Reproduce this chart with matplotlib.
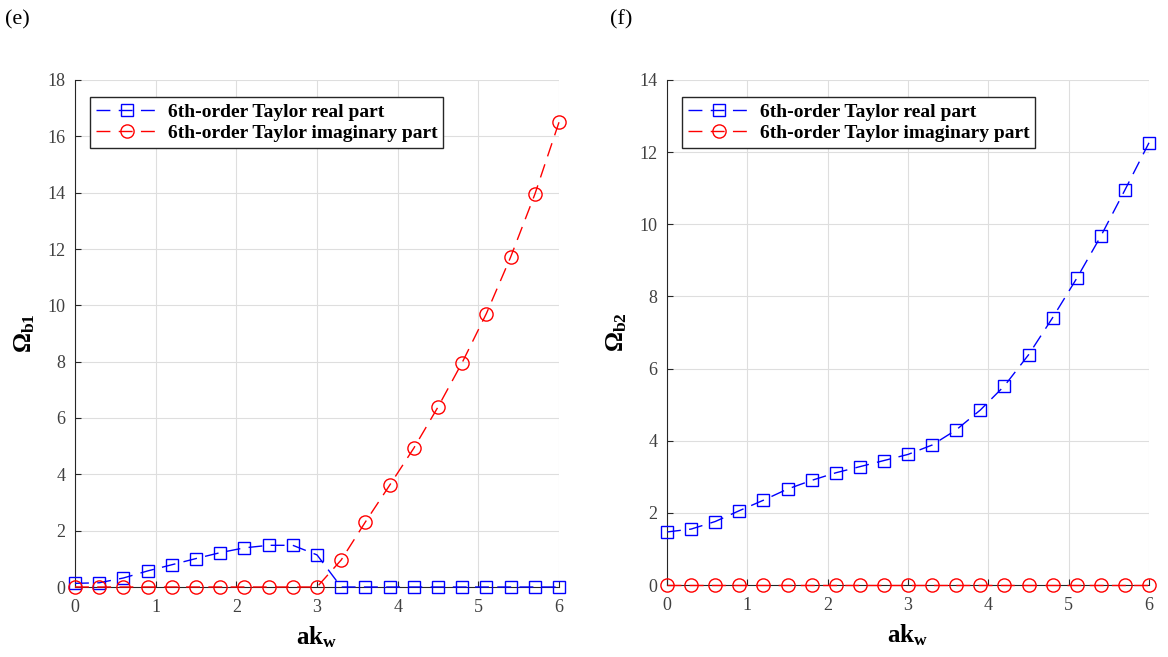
import matplotlib
matplotlib.use("Agg")
import matplotlib.pyplot as plt

plt.rcParams["font.family"] = ["Liberation Serif", "DejaVu Serif"]
plt.rcParams["mathtext.fontset"] = "custom"
plt.rcParams["mathtext.rm"] = "Liberation Serif"
plt.rcParams["mathtext.it"] = "Liberation Serif:italic"
plt.rcParams["mathtext.bf"] = "Liberation Serif:bold"

ak_w = [0.0, 0.3, 0.6, 0.9, 1.2, 1.5, 1.8, 2.1, 2.4, 2.7, 3.0,
        3.3, 3.6, 3.9, 4.2, 4.5, 4.8, 5.1, 5.4, 5.7, 6.0]

# panel (e): Omega_b1
b1_real = [0.13, 0.15, 0.32, 0.57, 0.79, 1.01, 1.22, 1.39, 1.48, 1.48, 1.14,
           0, 0, 0, 0, 0, 0, 0, 0, 0, 0]
b1_imag = [0, 0, 0, 0, 0, 0, 0, 0, 0, 0, 0,
           0.96, 2.31, 3.61, 4.93, 6.39, 7.97, 9.71, 11.71, 13.94, 16.5]

# panel (f): Omega_b2
b2_real = [1.47, 1.55, 1.76, 2.06, 2.35, 2.66, 2.90, 3.11, 3.28, 3.45, 3.62,
           3.88, 4.30, 4.85, 5.52, 6.38, 7.41, 8.50, 9.67, 10.95, 12.26]
b2_imag = [0] * 21

legend_labels = ["6th-order Taylor real part", "6th-order Taylor imaginary part"]


def draw_panel(ax, real, imag, ymax, ylabel):
    ax.plot(ak_w, real, color="#0000ff", marker="s", markersize=8,
            markerfacecolor="none", linewidth=1, dashes=(10, 6),
            label=legend_labels[0], clip_on=False, zorder=3)
    ax.plot(ak_w, imag, color="#ff0000", marker="o", markersize=9.5,
            markerfacecolor="none", linewidth=1, dashes=(10, 6),
            label=legend_labels[1], clip_on=False, zorder=3)
    ax.set_xlim(0, 6)
    ax.set_ylim(0, ymax)
    ax.set_xticks(range(0, 7))
    ax.set_yticks(range(0, ymax + 1, 2))
    ax.grid(True, color="#dedede", linewidth=0.8)
    ax.set_axisbelow(True)
    for side in ["top", "right"]:
        ax.spines[side].set_visible(False)
    for side in ["left", "bottom"]:
        ax.spines[side].set_color("#262626")
    ax.tick_params(direction="in", length=4, labelsize=13,
                   labelcolor="#404040", color="#262626")
    ax.tick_params(axis="x", pad=9)
    ax.tick_params(axis="y", pad=7)
    ax.set_xlabel(r"$\mathbf{ak_w}$", fontsize=18, labelpad=6)
    ax.set_ylabel(ylabel, fontsize=18, labelpad=7)
    leg = ax.legend(loc="upper left", bbox_to_anchor=(0.031, 0.966),
                    prop={"weight": "bold", "size": 14}, fancybox=False,
                    framealpha=1, edgecolor="#262626", borderpad=0.3,
                    labelspacing=0.2, handlelength=3.2, handletextpad=0.5,
                    borderaxespad=0)
    leg.get_frame().set_linewidth(1.0)


fig = plt.figure(figsize=(11.68, 6.57), dpi=100)
ax1 = fig.add_axes([75 / 1168, 1 - 587 / 657, 484 / 1168, 507 / 657])
ax2 = fig.add_axes([667 / 1168, 1 - 585 / 657, 482 / 1168, 505 / 657])

draw_panel(ax1, b1_real, b1_imag, 18, r"$\mathbf{\Omega_{b1}}$")
draw_panel(ax2, b2_real, b2_imag, 14, r"$\mathbf{\Omega_{b2}}$")

fig.text(5 / 1168, 1 - 20 / 657, "(e)", fontsize=16, va="center")
fig.text(610 / 1168, 1 - 20 / 657, "(f)", fontsize=16, va="center")

fig.savefig("out.png", dpi=100)
